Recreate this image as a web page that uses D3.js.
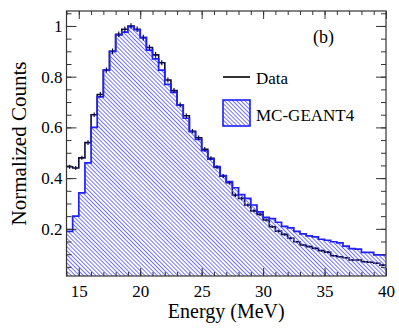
<!DOCTYPE html>
<html>
<head>
<meta charset="utf-8">
<script src="https://cdn.jsdelivr.net/npm/d3@7"></script>
<style>
  body { margin: 0; background: #fff; }
  svg text { fill: #000; }
</style>
</head>
<body>
<div class="chart"></div>
<script>
// bins: 0.5 MeV wide, from 14 to 40 MeV
const binStart = 14;
const binWidth = 0.5;

// measured data (normalized)
const dataValues = [
  0.445, 0.44, 0.48, 0.54, 0.65, 0.73, 0.826, 0.90, 0.967, 0.987,
  1.0, 0.987, 0.954, 0.915, 0.886, 0.855, 0.787, 0.745, 0.688, 0.646,
  0.585, 0.559, 0.514, 0.478, 0.443, 0.408, 0.382, 0.333, 0.32, 0.294,
  0.271, 0.257, 0.235, 0.208, 0.191, 0.178, 0.163, 0.149, 0.136, 0.13,
  0.123, 0.114, 0.108, 0.094, 0.09, 0.086, 0.077, 0.077, 0.07, 0.068,
  0.064, 0.057
];
const dataErrors = [
  0.008, 0.008, 0.008, 0.009, 0.009, 0.010, 0.010, 0.011, 0.011, 0.011,
  0.011, 0.011, 0.011, 0.011, 0.011, 0.010, 0.010, 0.010, 0.010, 0.009,
  0.009, 0.009, 0.009, 0.008, 0.008, 0.008, 0.007, 0.007, 0.007, 0.006,
  0.006, 0.006, 0.006, 0.005, 0.005, 0.005, 0.005, 0.004, 0.004, 0.004,
  0.004, 0.004, 0.004, 0.003, 0.003, 0.003, 0.003, 0.003, 0.003, 0.003,
  0.003, 0.003
];
// GEANT4 simulation
const mcValues = [
  0.19, 0.25, 0.342, 0.46, 0.60, 0.72, 0.826, 0.90, 0.965, 0.976,
  0.997, 0.985, 0.954, 0.905, 0.87, 0.826, 0.77, 0.738, 0.688, 0.636,
  0.583, 0.553, 0.508, 0.475, 0.445, 0.41, 0.386, 0.362, 0.335, 0.32,
  0.294, 0.267, 0.245, 0.24, 0.226, 0.21, 0.204, 0.19, 0.18, 0.172,
  0.168, 0.159, 0.155, 0.149, 0.145, 0.132, 0.122, 0.12, 0.107, 0.107,
  0.097, 0.097
];

const xTicks = [15, 20, 25, 30, 35, 40];
const yTicks = [0.2, 0.4, 0.6, 0.8, 1];
const xMinorTicks = d3.range(14, 40.01, 1);
const yMinorTicks = d3.range(0.05, 1.051, 0.05);

const width = 399;
const height = 332;
const frame = { left: 66.5, right: 386, top: 11, bottom: 276 };
const serif = "'Liberation Serif', 'Noto Serif', Tinos, 'Times New Roman', Times, 'Nimbus Roman', FreeSerif, 'DejaVu Serif', serif";

const xScale = d3.scaleLinear().domain([14, 40]).range([frame.left, frame.right]);
const yScale = d3.scaleLinear().domain([0.014, 1.059]).range([frame.bottom, frame.top]);

let svg = d3.select(".chart")
  .append("svg")
  .attr("width", width)
  .attr("height", height)
  .style("font-family", serif);

// hatch pattern for the MC histogram
let defs = svg.append("defs");
defs.append("pattern")
    .attr("id", "hatch")
    .attr("patternUnits", "userSpaceOnUse")
    .attr("width", 2.9)
    .attr("height", 2.9)
    .attr("patternTransform", "rotate(-45)")
  .append("line")
    .attr("x1", 0.5).attr("y1", 0)
    .attr("x2", 0.5).attr("y2", 2.9)
    .attr("stroke", "#6464ff")
    .attr("stroke-width", 0.9);
defs.append("clipPath")
    .attr("id", "plotClip")
  .append("rect")
    .attr("x", frame.left).attr("y", frame.top)
    .attr("width", frame.right - frame.left)
    .attr("height", frame.bottom - frame.top);

// step points: left edge of every bin plus the closing edge
const toSteps = values => {
  let pts = values.map((v, i) => [binStart + i * binWidth, v]);
  pts.push([binStart + values.length * binWidth, values[values.length - 1]]);
  return pts;
};

const stepLine = d3.line()
  .x(d => xScale(d[0]))
  .y(d => yScale(d[1]))
  .curve(d3.curveStepAfter);

const stepArea = d3.area()
  .x(d => xScale(d[0]))
  .y0(frame.bottom)
  .y1(d => yScale(d[1]))
  .curve(d3.curveStepAfter);

let plot = svg.append("g").attr("clip-path", "url(#plotClip)");

// data histogram
plot.append("path")
  .attr("d", stepLine(toSteps(dataValues)))
  .attr("fill", "none")
  .attr("stroke", "#0a0a3c")
  .attr("stroke-width", 1.6);

// MC hatched fill + outline
plot.append("path")
  .attr("d", stepArea(toSteps(mcValues)))
  .attr("fill", "url(#hatch)")
  .attr("stroke", "none");
plot.append("path")
  .attr("d", stepLine(toSteps(mcValues)))
  .attr("fill", "none")
  .attr("stroke", "#1f1fff")
  .attr("stroke-width", 1.7);

// data error bars
plot.selectAll(".err")
  .data(dataValues)
  .enter().append("line")
    .attr("class", "err")
    .attr("x1", (d, i) => xScale(binStart + (i + 0.5) * binWidth))
    .attr("x2", (d, i) => xScale(binStart + (i + 0.5) * binWidth))
    .attr("y1", (d, i) => yScale(d - dataErrors[i]))
    .attr("y2", (d, i) => yScale(d + dataErrors[i]))
    .attr("stroke", "#0a0a3c")
    .attr("stroke-width", 1.2);

// frame
svg.append("rect")
  .attr("x", frame.left).attr("y", frame.top)
  .attr("width", frame.right - frame.left)
  .attr("height", frame.bottom - frame.top)
  .attr("fill", "none")
  .attr("stroke", "#333")
  .attr("stroke-width", 1.2);

// axes (ticks on all four sides, ROOT style)
const tickColor = "#333";
const addAxis = (axis, transform) => {
  let g = svg.append("g").attr("transform", transform).call(axis);
  g.attr("font-family", null).style("font-family", serif);
  g.select(".domain").remove();
  g.selectAll(".tick line").attr("stroke", tickColor).attr("stroke-width", 1);
  return g;
};

const bottomMajor = addAxis(
  d3.axisBottom(xScale).tickValues(xTicks).tickSize(-8).tickPadding(9).tickFormat(d3.format("d")),
  `translate(0,${frame.bottom})`);
bottomMajor.selectAll("text").attr("font-size", 17);
addAxis(d3.axisBottom(xScale).tickValues(xMinorTicks).tickSize(-4).tickFormat(""),
  `translate(0,${frame.bottom})`);
addAxis(d3.axisTop(xScale).tickValues(xTicks).tickSize(-8).tickFormat(""),
  `translate(0,${frame.top})`);
addAxis(d3.axisTop(xScale).tickValues(xMinorTicks).tickSize(-4).tickFormat(""),
  `translate(0,${frame.top})`);

const leftMajor = addAxis(
  d3.axisLeft(yScale).tickValues(yTicks).tickSize(-10).tickPadding(4).tickFormat(d => d === 1 ? "1" : d3.format(".1f")(d)),
  `translate(${frame.left},0)`);
leftMajor.selectAll("text").attr("font-size", 17);
addAxis(d3.axisLeft(yScale).tickValues(yMinorTicks).tickSize(-5).tickFormat(""),
  `translate(${frame.left},0)`);
addAxis(d3.axisRight(yScale).tickValues(yTicks).tickSize(-10).tickFormat(""),
  `translate(${frame.right},0)`);
addAxis(d3.axisRight(yScale).tickValues(yMinorTicks).tickSize(-5).tickFormat(""),
  `translate(${frame.right},0)`);

// axis titles
svg.append("text")
  .attr("x", (frame.left + frame.right) / 2)
  .attr("y", 318)
  .attr("text-anchor", "middle")
  .attr("font-size", 20)
  .text("Energy (MeV)");

svg.append("text")
  .attr("transform", `translate(26,${(frame.top + frame.bottom) / 2}) rotate(-90)`)
  .attr("text-anchor", "middle")
  .attr("font-size", 21)
  .text("Normalized Counts");

// panel label
svg.append("text")
  .attr("x", 313)
  .attr("y", 43)
  .attr("font-size", 18)
  .text("(b)");

// legend
let legend = svg.append("g");
legend.append("line")
  .attr("x1", 223).attr("x2", 250)
  .attr("y1", 77).attr("y2", 77)
  .attr("stroke", "#000")
  .attr("stroke-width", 1.6);
legend.append("text")
  .attr("x", 256).attr("y", 84)
  .attr("font-size", 17)
  .text("Data");
legend.append("rect")
  .attr("x", 223).attr("y", 100)
  .attr("width", 27).attr("height", 26)
  .attr("fill", "url(#hatch)")
  .attr("stroke", "#1f1fff")
  .attr("stroke-width", 1.6);
legend.append("text")
  .attr("x", 256).attr("y", 121)
  .attr("font-size", 17)
  .text("MC-GEANT4");
</script>
</body>
</html>
